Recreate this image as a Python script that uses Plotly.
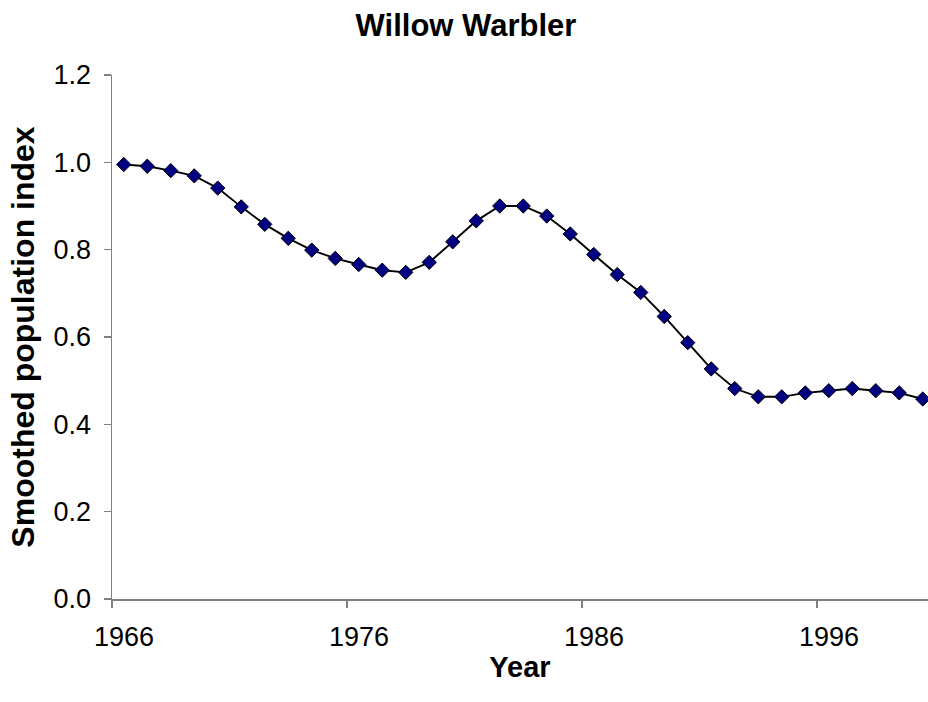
import plotly.graph_objects as go

years = list(range(1966, 2001))
index_values = [0.995, 0.991, 0.981, 0.969, 0.941, 0.898, 0.858, 0.826, 0.799, 0.780,
                0.766, 0.753, 0.748, 0.771, 0.818, 0.866, 0.900, 0.900, 0.877, 0.836,
                0.789, 0.743, 0.702, 0.647, 0.587, 0.527, 0.482, 0.463, 0.463, 0.472,
                0.477, 0.482, 0.477, 0.472, 0.458]
x_tick_labels = ["1966", "1976", "1986", "1996"]
x_tick_positions = [1965.5, 1975.5, 1985.5, 1995.5]
y_ticks = [0.0, 0.2, 0.4, 0.6, 0.8, 1.0, 1.2]

FONT = "Liberation Sans, Arial, sans-serif"

fig = go.Figure()
fig.add_trace(go.Scatter(
    x=years, y=index_values, mode="lines+markers",
    line=dict(color="black", width=1.9),
    marker=dict(symbol="diamond", size=11, color="#000080",
                line=dict(color="black", width=1)),
    cliponaxis=False, showlegend=False, hoverinfo="skip",
))

W, H = 928, 702
left, top, bottom_px = 112, 75, 599
cat_w = 23.5
x_end = 1965.5 + (W - left) / cat_w

fig.update_layout(
    width=W, height=H,
    margin=dict(l=left, r=0, t=top, b=H - bottom_px, pad=0, autoexpand=False),
    paper_bgcolor="white", plot_bgcolor="white",
    font=dict(family=FONT, color="black", size=27),
    title=dict(text="<b>Willow Warbler</b>", x=466 / W, xanchor="center",
               y=1 - 25 / H, yanchor="middle", yref="container",
               font=dict(size=31, family=FONT, color="black")),
    xaxis=dict(
        range=[1965.5, x_end], tickmode="array", tickvals=x_tick_positions,
        ticktext=x_tick_labels, ticks="outside", ticklen=7, tickwidth=1.2,
        tickcolor="#808080", showline=True, linecolor="#808080", linewidth=1.5,
        showgrid=False, zeroline=False, ticklabelshift=12,
        ticklabelstandoff=6, automargin=False,
        tickfont=dict(size=27, family=FONT, color="black"),
        title=dict(text="<b>Year</b>", standoff=6,
                   font=dict(size=29, family=FONT, color="black")),
    ),
    yaxis=dict(
        range=[0, 1.2], tickmode="array", tickvals=y_ticks,
        ticktext=[f"{v:.1f}" for v in y_ticks], ticks="outside", ticklen=7,
        tickwidth=1.2, tickcolor="#808080", showline=True, linecolor="#808080",
        linewidth=1.5, showgrid=False, zeroline=False, ticklabelstandoff=7,
        automargin=False,
        tickfont=dict(size=27, family=FONT, color="black"),
        title=dict(text="<b>Smoothed population index</b>", standoff=9,
                   font=dict(size=32, family=FONT, color="black")),
    ),
)

fig.write_html("out.html",
               config={"displayModeBar": False, "staticPlot": True},
               post_script="document.body.style.margin='0';"
                           "document.body.style.overflow='hidden';")
